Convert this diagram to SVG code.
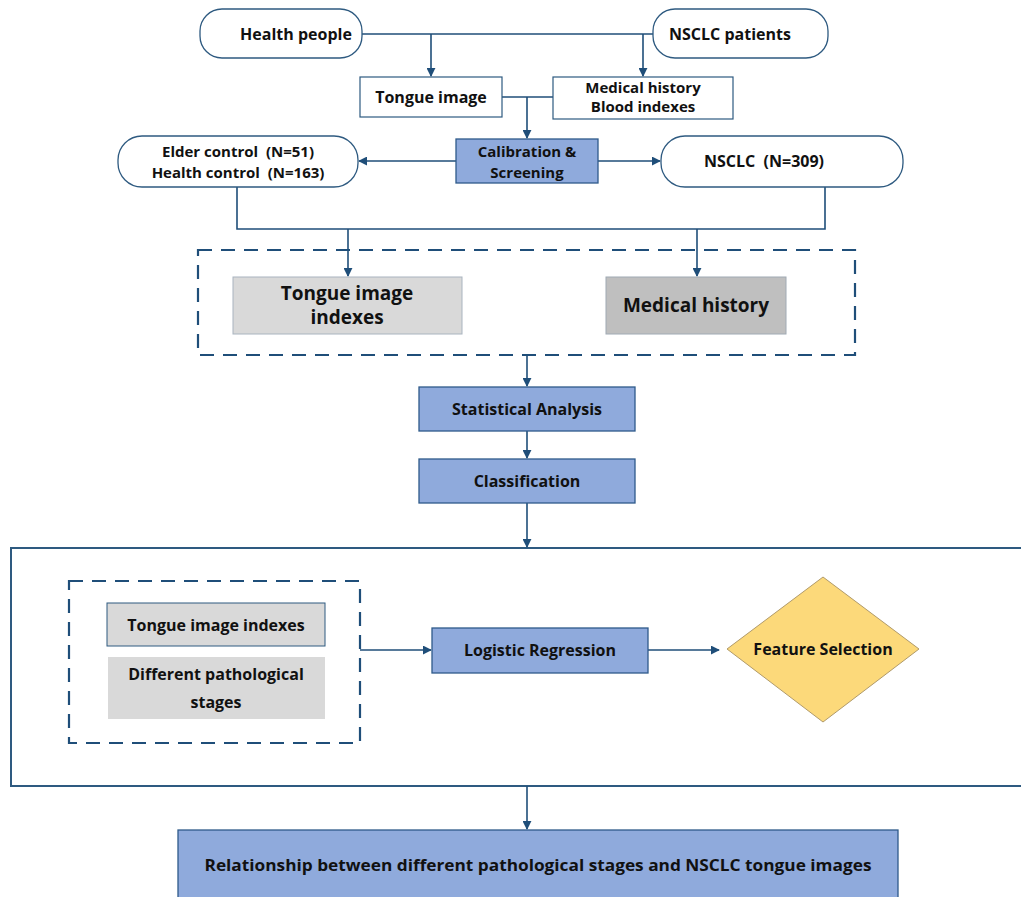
<svg xmlns="http://www.w3.org/2000/svg" width="1021" height="897" viewBox="0 0 1021 897">
<defs>
<marker id="ah" viewBox="0 0 10 10" refX="9" refY="5" markerWidth="9" markerHeight="9" markerUnits="userSpaceOnUse" orient="auto">
<path d="M0,0 L10,5 L0,10 z" fill="#1f4e79"/>
</marker>
<style>
text{font-family:"Open Sans","Liberation Sans",sans-serif;font-weight:bold;fill:#111;text-anchor:middle;dominant-baseline:central;white-space:pre}
.t17{font-size:16px}
.t15{font-size:15px}
.t20{font-size:19px}
.pill{fill:#fff;stroke:#2e5a80;stroke-width:1.3}
.wbox{fill:#fff;stroke:#2e5a80;stroke-width:1.2}
.blue{fill:#8faadc;stroke:#2f5a8a;stroke-width:1.3}
.grey1{fill:#d9d9d9;stroke:#a9b4bf;stroke-width:1}
.grey2{fill:#bfbfbf;stroke:#a0aab4;stroke-width:1}
.dash{fill:none;stroke:#1f4e79;stroke-width:2.2;stroke-dasharray:14 9}
.ln{fill:none;stroke:#1f4e79;stroke-width:1.6}
.arr{fill:none;stroke:#1f4e79;stroke-width:1.6;marker-end:url(#ah)}
</style>
</defs>
<rect width="1021" height="897" fill="#fff"/>

<g id="frame-dashed-top"><rect class="dash" x="198" y="250" width="657" height="105"/></g>
<g id="frame-big"><rect x="11" y="548" width="1030" height="238" fill="none" stroke="#2e5a80" stroke-width="2"/></g>
<g id="frame-dashed-inner"><rect class="dash" x="69" y="581" width="291" height="162"/></g>

<g id="connectors">
<path class="ln" d="M362,34 H653"/>
<path class="arr" d="M431,34 V76"/>
<path class="arr" d="M643,34 V76"/>
<path class="ln" d="M502,97 H553"/>
<path class="arr" d="M527,97 V138"/>
<path class="arr" d="M456,161 H359"/>
<path class="arr" d="M598,161 H660"/>
<path class="ln" d="M237,187 V229 H825 V187"/>
<path class="arr" d="M348,229 V276"/>
<path class="arr" d="M697,229 V276"/>
<path class="arr" d="M527,355 V386"/>
<path class="arr" d="M527,431 V458"/>
<path class="arr" d="M527,503 V547"/>
<path class="arr" d="M360,650 H431"/>
<path class="arr" d="M648,650 H719"/>
<path class="arr" d="M527,786 V829"/>
</g>

<g id="health-people"><rect class="pill" x="200" y="9" width="162" height="49" rx="22"/><text class="t17" x="296" y="34">Health people</text></g>
<g id="nsclc-patients"><rect class="pill" x="653" y="9" width="175" height="49" rx="22"/><text class="t17" x="730" y="34">NSCLC patients</text></g>
<g id="tongue-image"><rect class="wbox" x="360" y="77" width="142" height="40"/><text class="t17" x="431" y="97">Tongue image</text></g>
<g id="medical-blood"><rect class="wbox" x="553" y="77" width="180" height="42"/><text class="t15" x="643" y="87">Medical history</text><text class="t15" x="643" y="106">Blood indexes</text></g>
<g id="calibration"><rect class="blue" x="456" y="139" width="142" height="44"/><text class="t15" x="527" y="151">Calibration &amp;</text><text class="t15" x="527" y="172">Screening</text></g>
<g id="controls"><rect class="pill" x="118" y="136" width="240" height="51" rx="24"/><text class="t15" x="238" y="151" xml:space="preserve">Elder control  (N=51)</text><text class="t15" x="238" y="172" xml:space="preserve">Health control  (N=163)</text></g>
<g id="nsclc"><rect class="pill" x="661" y="136" width="242" height="51" rx="24"/><text class="t17" x="764" y="161" xml:space="preserve">NSCLC  (N=309)</text></g>

<g id="tongue-indexes"><rect class="grey1" x="233" y="277" width="229" height="57"/><text class="t20" x="347" y="293">Tongue image</text><text class="t20" x="347" y="317">indexes</text></g>
<g id="medical-history"><rect class="grey2" x="606" y="277" width="180" height="57"/><text class="t20" x="696" y="305">Medical history</text></g>

<g id="statistical"><rect class="blue" x="419" y="387" width="216" height="44"/><text class="t17" x="527" y="409">Statistical Analysis</text></g>
<g id="classification"><rect class="blue" x="419" y="459" width="216" height="44"/><text class="t17" x="527" y="481">Classification</text></g>

<g id="tongue-indexes-2"><rect x="107" y="603" width="218" height="43" fill="#d9d9d9" stroke="#2e5a80" stroke-width="1"/><text class="t17" x="216" y="625">Tongue image indexes</text></g>
<g id="pathological"><rect x="108" y="657" width="217" height="62" fill="#d9d9d9"/><text class="t17" x="216" y="674">Different pathological</text><text class="t17" x="216" y="702">stages</text></g>
<g id="logistic"><rect class="blue" x="432" y="628" width="216" height="45"/><text class="t17" x="540" y="650">Logistic Regression</text></g>
<g id="feature"><polygon points="823,577 919,649 823,722 727,649" fill="#fcd97a" stroke="#b09a6a" stroke-width="1"/><text class="t17" x="823" y="649">Feature Selection</text></g>

<g id="relationship"><rect class="blue" x="178" y="830" width="720" height="80"/><text class="t17" x="538" y="865" textLength="667" lengthAdjust="spacingAndGlyphs">Relationship between different pathological stages and NSCLC tongue images</text></g>
</svg>
